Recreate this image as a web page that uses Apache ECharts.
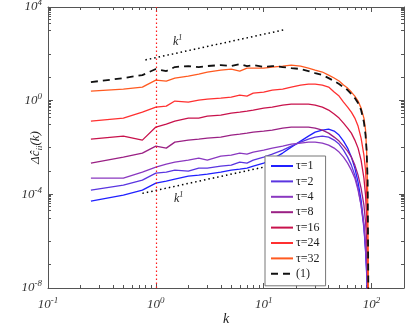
<!DOCTYPE html>
<html>
<head>
<meta charset="utf-8">
<script src="https://cdn.jsdelivr.net/npm/echarts@6.0.0/dist/echarts.min.js"></script>
<style>
  html, body { margin: 0; padding: 0; background: #fff; }
  #chart { width: 407px; height: 328px; }
</style>
</head>
<body>
<div id="chart"></div>
<script>
// wavenumbers shared by all curves
var kVals = [0.25, 0.5, 0.75, 1, 1.25, 1.5, 2, 2.5, 3, 4, 5, 6, 7, 8, 10, 12, 15, 18, 22, 26,
  30, 35, 40, 45, 50, 55, 60, 65, 70, 75, 80, 85, 88, 90, 92, 94];

var tau1 = [5.12e-5, 9.25e-5, 1.51e-4, 3.01e-4, 3.66e-4, 4.46e-4, 6.0e-4, 6.62e-4, 7.3e-4, 8.89e-4,
  1.08e-3, 1.19e-3, 1.32e-3, 1.60e-3, 2.15e-3, 3.19e-3, 5.77e-3, 1.04e-2, 1.88e-2, 3.07e-2,
  4.55e-2, 5.54e-2, 6.11e-2, 5.02e-2, 3.39e-2, 1.88e-2, 9.42e-3, 3.89e-3, 1.32e-3, 3.32e-4,
  5.65e-5, 4.83e-6, 4.1e-7, 4.7e-8, 3e-9, 1e-10];
var tau2 = [1.51e-4, 2.47e-4, 4.04e-4, 8.05e-4, 8.89e-4, 1.08e-3, 9.8e-4, 1.32e-3, 1.32e-3, 1.60e-3,
  1.77e-3, 2.38e-3, 2.15e-3, 2.9e-3, 3.89e-3, 5.22e-3, 7.74e-3, 1.15e-2, 1.70e-2, 2.29e-2,
  2.78e-2, 3.07e-2, 2.78e-2, 2.07e-2, 1.40e-2, 7.74e-3, 3.89e-3, 1.77e-3, 6.62e-4, 1.84e-4,
  3.45e-5, 3.6e-6, 4.1e-7, 5.8e-8, 5e-9, 1e-10];
var tau4 = [4.92e-4, 4.92e-4, 8.89e-4, 1.45e-3, 1.95e-3, 2.38e-3, 2.9e-3, 3.52e-3, 2.9e-3, 4.29e-3,
  4.73e-3, 5.77e-3, 5.22e-3, 6.36e-3, 7.74e-3, 9.42e-3, 1.15e-2, 1.40e-2, 1.54e-2, 1.70e-2,
  1.70e-2, 1.54e-2, 1.27e-2, 9.42e-3, 6.36e-3, 3.89e-3, 2.15e-3, 1.08e-3, 4.92e-4, 1.51e-4,
  3.45e-5, 4.83e-6, 6.75e-7, 9.4e-8, 8e-9, 1e-10];
var tau8 = [2.15e-3, 3.89e-3, 5.77e-3, 1.15e-2, 9.4e-3, 1.70e-2, 2.07e-2, 2.29e-2, 2.52e-2, 2.78e-2,
  3.39e-2, 3.74e-2, 4.12e-2, 4.55e-2, 5.02e-2, 5.54e-2, 6.75e-2, 7.45e-2, 7.45e-2, 7.45e-2,
  6.75e-2, 5.54e-2, 4.12e-2, 2.78e-2, 1.88e-2, 1.15e-2, 7.0e-3, 3.89e-3, 1.77e-3, 6.62e-4,
  1.84e-4, 3.45e-5, 6.48e-6, 1.1e-6, 5.8e-8, 1e-10];
var tau16 = [0.0229, 0.0307, 0.0207, 0.0745, 0.1, 0.134, 0.18, 0.18, 0.22, 0.243,
  0.295, 0.326, 0.36, 0.397, 0.483, 0.532, 0.648, 0.716, 0.716, 0.716,
  0.648, 0.532, 0.397, 0.267, 0.18, 0.11, 0.0675, 0.0412, 0.0207, 0.0094,
  0.0029, 4.92e-4, 9.25e-5, 1.29e-5, 4.1e-7, 1e-10];
var tau24 = [0.134, 0.18, 0.326, 0.532, 0.587, 0.962, 0.871, 1.06, 1.17, 1.29,
  1.43, 1.73, 1.57, 2.11, 2.33, 2.84, 3.13, 3.81, 4.64, 5.12,
  5.12, 4.64, 3.81, 2.33, 1.57, 0.871, 0.532, 0.326, 0.18, 0.0822,
  0.0252, 0.00473, 0.00108, 1.51e-4, 2.95e-6, 1e-10];
var tau32 = [2.57, 3.13, 3.81, 7.59, 6.88, 9.25, 11.2, 13.7, 16.7, 20.3,
  22.4, 18.4, 24.7, 24.7, 24.7, 27.3, 30.1, 33.2, 30.1, 24.7,
  20.3, 16.7, 12.4, 9.25, 6.88, 4.64, 3.45, 2.33, 1.57, 0.96,
  0.48, 0.18, 0.055, 0.0077, 1.5e-4, 1e-10];
var model1 = [6.2, 9.2, 12.4, 22.4, 18.4, 27.3, 30.1, 27.3, 30.1, 33.2,
  30.1, 36.6, 30.1, 33.2, 27.3, 30.1, 27.3, 24.7, 22.4, 18.4,
  15.1, 12.4, 9.2, 6.9, 5.1, 3.8, 2.84, 1.91, 1.29, 0.79,
  0.40, 0.122, 0.034, 0.0077, 4.0e-4, 1e-10];

// k^1 guide lines
var guideUpK = [0.8, 16];
var guideUpV = [55, 1100];
var guideLowK = [0.75, 10];
var guideLowV = [1.1e-4, 1.45e-3];

var tauNames = ['τ=1', 'τ=2', 'τ=4', 'τ=8', 'τ=16', 'τ=24', 'τ=32'];
var tauColors = ['#2020ff', '#5a35e0', '#8a38c0', '#9a2084', '#c8124c', '#ff3030', '#ff5a20'];

var xMajor = [0.1, 1, 10, 100];
var xMinor = [0.2, 0.3, 0.4, 0.5, 0.6, 0.7, 0.8, 0.9, 2, 3, 4, 5, 6, 7, 8, 9,
  20, 30, 40, 50, 60, 70, 80, 90];
var yMajor = [1e-8, 1e-4, 1, 1e4];
var yMinor = [1e-7, 1e-6, 1e-5, 2e-5, 3e-5, 4e-5, 5e-5, 6e-5, 7e-5, 8e-5, 9e-5,
  1e-3, 1e-2, 1e-1, 0.2, 0.3, 0.4, 0.5, 0.6, 0.7, 0.8, 0.9,
  10, 100, 1000, 2000, 3000, 4000, 5000, 6000, 7000, 8000, 9000];

var serif = '"Liberation Serif", "Times New Roman", serif';
var axisCol = '#555';
var supRich = {
  b: { fontFamily: serif, fontStyle: 'italic', fontSize: 13, color: '#333' },
  s: { fontFamily: serif, fontStyle: 'italic', fontSize: 9, color: '#333', padding: [0, 0, 8, 0] }
};

function pairs(xs, ys) {
  return xs.map(function (x, i) { return [x, ys[i]]; });
}
function powLabel(v) {
  return '{b|10}{s|' + Math.round(Math.log10(v)) + '}';
}

function xAx(grid, pos, ticks, len, labels) {
  return {
    type: 'log', gridIndex: grid, position: pos, min: 0.1, max: 200,
    axisLine: { show: grid === 0, onZero: false, lineStyle: { color: axisCol, width: 1 } },
    axisTick: { show: true, inside: true, length: len, customValues: ticks, lineStyle: { color: axisCol } },
    axisLabel: labels ? { customValues: xMajor, formatter: powLabel, rich: supRich, margin: 8 } : { show: false },
    splitLine: { show: false },
    minorTick: { show: false }
  };
}
function yAx(grid, pos, ticks, len, labels) {
  return {
    type: 'log', gridIndex: grid, position: pos, min: 1e-8, max: 1e4,
    axisLine: { show: grid === 0, onZero: false, lineStyle: { color: axisCol, width: 1 } },
    axisTick: { show: true, inside: true, length: len, customValues: ticks, lineStyle: { color: axisCol } },
    axisLabel: labels ? { customValues: yMajor, formatter: powLabel, rich: supRich, margin: 6 } : { show: false },
    splitLine: { show: false },
    minorTick: { show: false }
  };
}

var xAxes = [xAx(0, 'bottom', xMajor, 5, true), xAx(0, 'top', xMajor, 5, false),
  xAx(1, 'bottom', xMinor, 3, false), xAx(1, 'top', xMinor, 3, false)];
xAxes[0].name = 'k';
xAxes[0].nameLocation = 'middle';
xAxes[0].nameGap = 24;
xAxes[0].nameMoveOverlap = false;
xAxes[0].nameTextStyle = { fontFamily: serif, fontStyle: 'italic', fontSize: 14, color: '#222' };

var yAxes = [yAx(0, 'left', yMajor, 5, true), yAx(0, 'right', yMajor, 5, false),
  yAx(1, 'left', yMinor, 3, false), yAx(1, 'right', yMinor, 3, false)];
yAxes[0].name = '{a|Δĉ}{sub|ii}{a|(k)}';
yAxes[0].nameLocation = 'middle';
yAxes[0].nameRotate = 90;
yAxes[0].nameGap = 4;
yAxes[0].nameMoveOverlap = false;
yAxes[0].nameTextStyle = {
  rich: {
    a: { fontFamily: serif, fontStyle: 'italic', fontSize: 13, color: '#222' },
    sub: { fontFamily: serif, fontStyle: 'italic', fontSize: 9, color: '#222', padding: [7, 0, 0, 0] }
  }
};

var series = [];
var tauData = [tau1, tau2, tau4, tau8, tau16, tau24, tau32];
tauData.forEach(function (vals, i) {
  series.push({
    name: tauNames[i], type: 'line', xAxisIndex: 0, yAxisIndex: 0,
    data: pairs(kVals, vals), showSymbol: false, symbol: 'none',
    lineStyle: { color: tauColors[i], width: 1.3 }, itemStyle: { color: tauColors[i] }
  });
});
series.push({
  name: '(1)', type: 'line', xAxisIndex: 0, yAxisIndex: 0,
  data: pairs(kVals, model1), showSymbol: false, symbol: 'none',
  lineStyle: { color: '#111', width: 1.8, type: [7, 5] }, itemStyle: { color: '#111' }
});
series.push({
  type: 'line', xAxisIndex: 0, yAxisIndex: 0, data: pairs(guideUpK, guideUpV),
  showSymbol: false, symbol: 'none', lineStyle: { color: '#000', width: 1.5, type: [1.5, 3] },
  markLine: {
    silent: true, symbol: 'none', label: { show: false },
    lineStyle: { color: '#ff1a1a', width: 1.2, type: [1.5, 2.5] },
    data: [{ xAxis: 1 }]
  }
});
series.push({
  type: 'line', xAxisIndex: 0, yAxisIndex: 0, data: pairs(guideLowK, guideLowV),
  showSymbol: false, symbol: 'none', lineStyle: { color: '#000', width: 1.5, type: [1.5, 3] }
});

var kRich = {
  a: { fontFamily: serif, fontStyle: 'italic', fontSize: 12, fill: '#222' },
  s: { fontFamily: serif, fontStyle: 'italic', fontSize: 8, fill: '#222', padding: [0, 0, 7, 0] }
};

var chart = echarts.init(document.getElementById('chart'), null, { renderer: 'canvas' });
chart.setOption({
  animation: false,
  backgroundColor: '#fff',
  grid: [
    { left: 48, right: 3, top: 7, bottom: 40, outerBoundsMode: 'none', containLabel: false },
    { left: 48, right: 3, top: 7, bottom: 40, outerBoundsMode: 'none', containLabel: false }
  ],
  xAxis: xAxes,
  yAxis: yAxes,
  legend: {
    data: tauNames.concat(['(1)']),
    orient: 'vertical',
    left: 265, top: 156,
    itemWidth: 22, itemHeight: 11, itemGap: 3.4,
    padding: [4, 6, 6, 5],
    backgroundColor: '#fff',
    borderColor: '#777', borderWidth: 1,
    itemStyle: { opacity: 0 },
    textStyle: { fontFamily: serif, fontSize: 12, color: '#222', padding: [0, 0, 0, -2] }
  },
  graphic: [
    { type: 'text', x: 173, y: 34, style: { text: '{a|k}{s|1}', rich: kRich } },
    { type: 'text', x: 174, y: 191, style: { text: '{a|k}{s|1}', rich: kRich } }
  ],
  series: series
});
</script>
</body>
</html>
